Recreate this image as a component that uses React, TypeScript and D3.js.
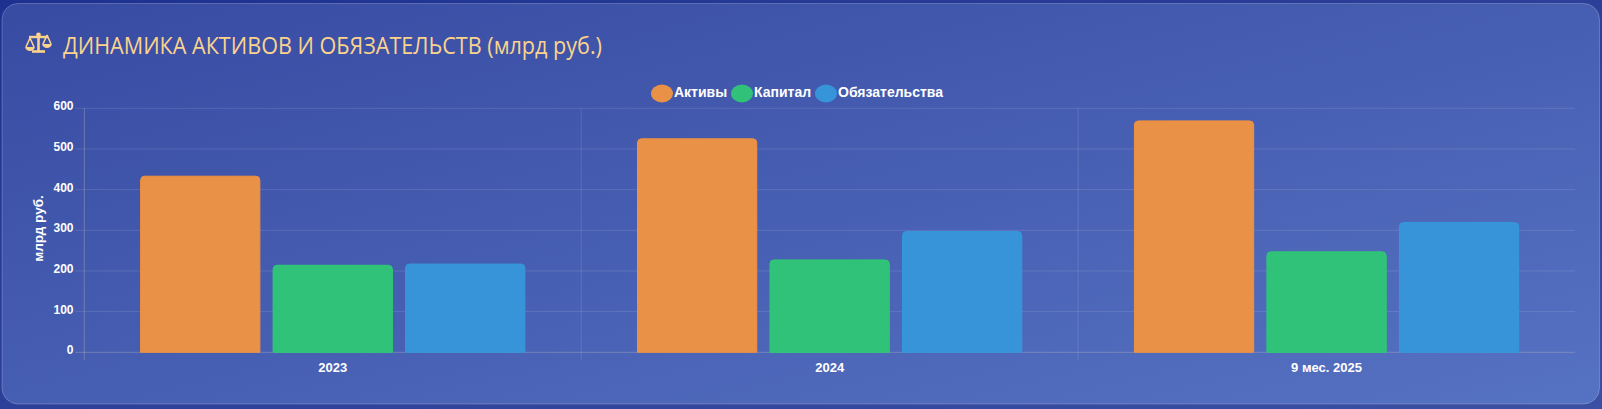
import * as d3 from 'd3';
import { useRef, useEffect } from 'react';

const periods = ['2023', '2024', '9 мес. 2025'];
const seriesNames = ['Активы', 'Капитал', 'Обязательства'];
const assets = [433, 525, 569];
const capital = [214, 227, 247];
const liabilities = [217, 297, 319];
const yTicks = [0, 100, 200, 300, 400, 500, 600];

const colors = ['#e99146', '#2fc278', '#3894d8'];
const borders = ['#f0913c', '#2ecc71', '#3498db'];

const W = 1602, H = 409;

const App = () => {
    const ref = useRef<SVGSVGElement>(null);

    useEffect(() => {
        if (!ref.current) return;
        const root = d3.select(ref.current);
        root.selectAll('*').remove();

        const defs = root.append('defs');
        const bg = defs.append('linearGradient').attr('id', 'pageBg')
            .attr('x1', '0%').attr('y1', '0%').attr('x2', '100%').attr('y2', '100%');
        bg.append('stop').attr('offset', '0%').attr('stop-color', '#1d3190');
        bg.append('stop').attr('offset', '100%').attr('stop-color', '#3b4fa3');
        const card = defs.append('linearGradient').attr('id', 'cardBg')
            .attr('x1', '0%').attr('y1', '0%').attr('x2', '100%').attr('y2', '100%');
        card.append('stop').attr('offset', '0%').attr('stop-color', '#374ba2');
        card.append('stop').attr('offset', '100%').attr('stop-color', '#5672c2');

        root.append('rect').attr('width', W).attr('height', H).attr('fill', 'url(#pageBg)');
        root.append('rect')
            .attr('x', 2).attr('y', 3.5).attr('width', 1597.5).attr('height', 400.5)
            .attr('rx', 16).attr('ry', 16)
            .attr('fill', 'url(#cardBg)')
            .attr('stroke', 'rgba(255,255,255,0.22)').attr('stroke-width', 1);

        // title icon (scales)
        const peach = '#fbd38d';
        const icon = root.append('g').attr('fill', peach).attr('stroke', peach);
        icon.append('line').attr('x1', 38.5).attr('x2', 38.5).attr('y1', 33).attr('y2', 51).attr('stroke-width', 2.6);
        icon.append('line').attr('x1', 29).attr('x2', 48).attr('y1', 37).attr('y2', 37).attr('stroke-width', 2.4);
        icon.append('line').attr('x1', 32).attr('x2', 45).attr('y1', 51.5).attr('y2', 51.5).attr('stroke-width', 2.6);
        icon.append('circle').attr('cx', 38.5).attr('cy', 35).attr('r', 2.4).attr('stroke', 'none');
        [30, 47].forEach((cx, i) => {
            const py = i === 0 ? 47 : 44;
            icon.append('path')
                .attr('d', `M${cx},${py - 9} L${cx - 4},${py} M${cx},${py - 9} L${cx + 4},${py}`)
                .attr('fill', 'none').attr('stroke-width', 1.6);
            icon.append('path')
                .attr('d', `M${cx - 4.8},${py} L${cx + 4.8},${py} A4.8,4 0 0,1 ${cx - 4.8},${py} Z`)
                .attr('stroke', 'none');
        });

        root.append('text')
            .attr('x', 63).attr('y', 53.5)
            .attr('textLength', 539).attr('lengthAdjust', 'spacingAndGlyphs')
            .style('font-family', '"Open Sans"').style('font-size', '23px')
            .attr('fill', peach)
            .text('ДИНАМИКА АКТИВОВ И ОБЯЗАТЕЛЬСТВ (млрд руб.)');

        const left = 84.3, right = 1575, top = 108.3, bottom = 352.3;

        const x = d3.scaleBand<string>().domain(periods).range([left, right]);
        const bw = x.bandwidth();
        const xs = d3.scaleBand<string>().domain(seriesNames)
            .range([0.1 * bw, 0.9 * bw]).paddingInner(0.1).paddingOuter(0.05);
        const y = d3.scaleLinear().domain([0, 600]).range([bottom, top]);

        const grid = root.append('g');
        yTicks.forEach(t => {
            grid.append('line')
                .attr('x1', left - 9).attr('x2', right)
                .attr('y1', y(t)).attr('y2', y(t))
                .attr('stroke', t === 0 ? 'rgba(170,170,190,0.45)' : 'rgba(255,255,255,0.12)')
                .attr('stroke-width', 1);
        });
        periods.slice(1).forEach(p => {
            grid.append('line')
                .attr('x1', x(p)!).attr('x2', x(p)!)
                .attr('y1', top).attr('y2', bottom + 8)
                .attr('stroke', 'rgba(255,255,255,0.12)');
        });
        grid.append('line')
            .attr('x1', left).attr('x2', left)
            .attr('y1', top).attr('y2', bottom + 8)
            .attr('stroke', 'rgba(170,170,190,0.45)');

        root.append('g').selectAll('text').data(yTicks).enter().append('text')
            .attr('x', 73.5).attr('y', d => y(d) - 1)
            .attr('text-anchor', 'end').attr('dominant-baseline', 'middle')
            .style('font-family', '"Liberation Sans", Arial').style('font-size', '12px').style('font-weight', 'bold')
            .attr('fill', '#ffffff')
            .text(d => String(d));

        root.append('g').selectAll('text').data(periods).enter().append('text')
            .attr('x', d => x(d)! + bw / 2).attr('y', 372)
            .attr('text-anchor', 'middle')
            .style('font-family', '"Liberation Sans", Arial').style('font-size', '13px').style('font-weight', 'bold')
            .attr('fill', '#ffffff')
            .text(d => d);

        root.append('text')
            .attr('transform', 'translate(43,228.5) rotate(-90)')
            .attr('text-anchor', 'middle')
            .style('font-family', '"Liberation Sans", Arial').style('font-size', '13.5px').style('font-weight', 'bold')
            .attr('fill', '#ffffff')
            .text('млрд руб.');

        const allSeries = [assets, capital, liabilities];
        const r = 4;
        const barPath = (x0: number, w: number, y0: number, y1: number) => {
            return `M${x0},${y1} L${x0},${y0 + r} Q${x0},${y0} ${x0 + r},${y0} L${x0 + w - r},${y0} Q${x0 + w},${y0} ${x0 + w},${y0 + r} L${x0 + w},${y1} Z`;
        };
        const bars = root.append('g');
        allSeries.forEach((vals, si) => {
            bars.selectAll(`path.s${si}`).data(vals).enter().append('path')
                .attr('class', `s${si}`)
                .attr('d', (d, i) => barPath(x(periods[i])! + xs(seriesNames[si])!, xs.bandwidth(), y(d), y(0)))
                .attr('fill', colors[si])
                .attr('stroke', borders[si]).attr('stroke-width', 1);
        });

        // legend
        const legendX = [662, 742, 826];
        const lg = root.append('g');
        seriesNames.forEach((s, i) => {
            lg.append('ellipse')
                .attr('cx', legendX[i]).attr('cy', 93.5).attr('rx', 11).attr('ry', 9)
                .attr('fill', colors[i]);
            lg.append('text')
                .attr('x', legendX[i] + 12).attr('y', 93.5)
                .attr('dominant-baseline', 'middle')
                .style('font-family', '"Liberation Sans", Arial').style('font-size', '14px').style('font-weight', 'bold')
                .attr('fill', '#ffffff')
                .text(s);
        });
    }, []);

    return (
        <div style={{ position: 'absolute', left: 0, top: 0 }}>
            <svg ref={ref} width={W} height={H} style={{ display: 'block' }}></svg>
        </div>
    );
};

export default App;
